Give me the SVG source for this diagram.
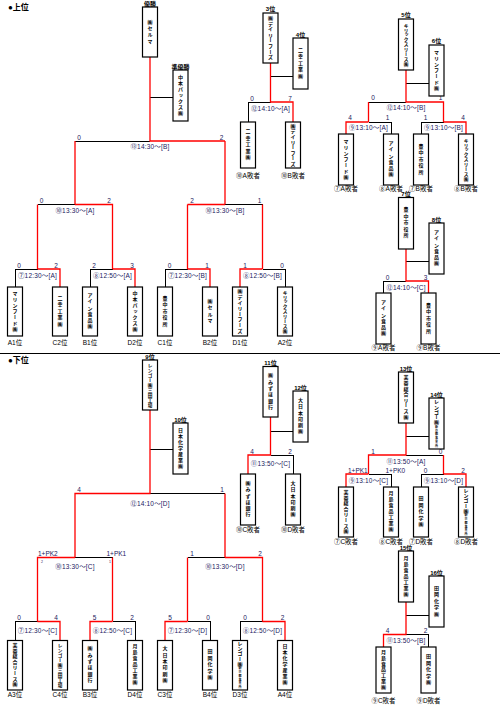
<svg xmlns="http://www.w3.org/2000/svg" width="500" height="707" viewBox="0 0 500 707">
<style>
.k{fill:none;stroke:#000;stroke-width:1;shape-rendering:crispEdges}
.r{fill:none;stroke:#ff0000;stroke-width:1.3}
.bx{fill:#fff;stroke:#000;stroke-width:1.2}
text{font-family:"Liberation Sans","Noto Sans CJK JP",sans-serif}
.nm{font-family:"Noto Sans CJK JP",sans-serif;font-size:5px;font-weight:bold;writing-mode:vertical-rl;text-anchor:middle;fill:#000}
.sc{font-size:6.5px;fill:#1a2060;text-anchor:middle}
.pk{font-size:6.5px;fill:#1a2060}
.tn{font-size:3.5px;fill:#1a2060;text-anchor:middle}
.ml{font-size:6.5px;fill:#1a2060;text-anchor:middle;letter-spacing:0.2px}
.rk{font-size:6px;font-weight:bold;text-anchor:middle}
.sd{font-size:6.5px;text-anchor:middle}
.ls{font-size:6.5px;text-anchor:middle}
.hd{font-size:8px;font-weight:bold}
</style>
<line x1="0" y1="353.5" x2="500" y2="353.5" stroke="#000" stroke-width="1"/>
<text class="hd" x="8" y="10">●上位</text>
<text class="hd" x="8" y="362.5">●下位</text>

<g id="connectors">
<path class="k" d="M150 97H173M75 141H150M37.5 204.5H75M225 204.5H262.5M37.5 269H15V287M112.5 269H90V287M187.5 269H165V287M262.5 269H285V287M270.5 76H293M270.5 102H248V122M406 83H429M406 102H368.5M368.5 122H391V134M443.5 122H421V134M406 261H429M406 281H383.5V293"/>
<path class="k" d="M150 449.5H173M150 493.5H225M75 557.5H112.5M225 557.5H187.5M37.5 621.5H15V640.5M112.5 621.5H135V640.5M187.5 621.5H210V640.5M262.5 621.5H240V640.5M270.5 431H293M270.5 455H293V474M406 436.5H429M406 455H443.5M368.5 474H391V487M443.5 474H421V487M406 615.5H429M406 634.5H428.5V647"/>
<path class="r" d="M150 57V141H225M75 141V204.5M225 141V204.5M37.5 204.5V269M75 204.5H112.5V269M187.5 204.5H225M187.5 204.5V269M262.5 204.5V269M37.5 269H60V287M112.5 269H135V287M187.5 269H210V287M262.5 269H240V287M270.5 63V102H293V122M406 70V102H443.5V122M368.5 102V122M368.5 122H346V134M443.5 122H466V134M406 249V281H428.5V293"/>
<path class="r" d="M150 410V493.5H75V557.5M225 493.5V557.5M75 557.5H37.5V621.5M112.5 557.5V621.5M225 557.5H262.5V621.5M187.5 557.5V621.5M37.5 621.5H60V640.5M112.5 621.5H90V640.5M187.5 621.5H165V640.5M262.5 621.5H285V640.5M270.5 417V455H248V474M406 423V455H368.5V474M443.5 455V474M368.5 474H346V487M443.5 474H466V487M406 602V634.5H383.5V647"/>
<!-- scores -->
<text class="sc" x="79" y="139.5">0</text><text class="sc" x="221.5" y="139.5">2</text>
<text class="sc" x="41.5" y="203">0</text><text class="sc" x="109" y="203">2</text>
<text class="sc" x="192" y="203">2</text><text class="sc" x="259.5" y="203">1</text>
<text class="sc" x="19" y="267.5">0</text><text class="sc" x="56" y="267.5">2</text>
<text class="sc" x="94" y="267.5">2</text><text class="sc" x="132" y="267.5">3</text>
<text class="sc" x="169.5" y="267.5">0</text><text class="sc" x="207" y="267.5">1</text>
<text class="sc" x="245" y="267.5">1</text><text class="sc" x="282" y="267.5">0</text>
<text class="sc" x="252" y="100.5">0</text><text class="sc" x="290" y="100.5">7</text>
<text class="sc" x="373" y="100">0</text><text class="sc" x="440.5" y="100">1</text>
<text class="sc" x="350" y="120">4</text><text class="sc" x="387.5" y="120">1</text>
<text class="sc" x="425.5" y="120">1</text><text class="sc" x="463" y="120">4</text>
<text class="sc" x="387.5" y="279.5">0</text><text class="sc" x="425.5" y="279.5">3</text>
<text class="sc" x="79" y="492">4</text><text class="sc" x="222" y="492">1</text>
<text class="pk" x="38" y="556">1+PK2</text><text class="pk" x="106.5" y="556">1+PK1</text>
<text class="tn" x="42" y="562.5">2</text><text class="tn" x="110" y="562.5">1</text>
<text class="sc" x="192" y="556">1</text><text class="sc" x="260" y="556">2</text>
<text class="sc" x="19" y="620">0</text><text class="sc" x="56" y="620">4</text>
<text class="sc" x="94.5" y="620">5</text><text class="sc" x="132" y="620">2</text>
<text class="sc" x="170" y="620">5</text><text class="sc" x="208" y="620">0</text>
<text class="sc" x="245" y="620">0</text><text class="sc" x="282.5" y="620">2</text>
<text class="sc" x="252" y="453.5">4</text><text class="sc" x="290" y="453.5">2</text>
<text class="sc" x="373" y="453.5">1</text><text class="sc" x="440.5" y="453.5">0</text>
<text class="pk" x="348" y="473">1+PK1</text><text class="pk" x="385.5" y="473">1+PK0</text>
<text class="sc" x="425.5" y="473">0</text><text class="sc" x="463" y="473">2</text>
<text class="sc" x="387.5" y="633">4</text><text class="sc" x="425.5" y="633">2</text>
<!-- match labels -->
<text class="ml" x="150" y="149">⑬14:30〜[B]</text>
<text class="ml" x="75" y="213">⑩13:30〜[A]</text>
<text class="ml" x="225" y="213">⑩13:30〜[B]</text>
<text class="ml" x="37.5" y="277.5">⑦12:30〜[A]</text>
<text class="ml" x="112.5" y="277.5">⑧12:50〜[A]</text>
<text class="ml" x="187.5" y="277.5">⑦12:30〜[B]</text>
<text class="ml" x="262.5" y="277.5">⑧12:50〜[B]</text>
<text class="ml" x="270.5" y="111">⑫14:10〜[A]</text>
<text class="ml" x="406" y="110">⑫14:10〜[B]</text>
<text class="ml" x="368.5" y="130">⑨13:10〜[A]</text>
<text class="ml" x="443.5" y="130">⑨13:10〜[B]</text>
<text class="ml" x="406" y="289.5">⑫14:10〜[C]</text>
<text class="ml" x="150" y="506">⑫14:10〜[D]</text>
<text class="ml" x="75" y="569">⑩13:30〜[C]</text>
<text class="ml" x="225" y="569">⑩13:30〜[D]</text>
<text class="ml" x="37.5" y="633">⑦12:30〜[C]</text>
<text class="ml" x="112.5" y="633">⑧12:50〜[C]</text>
<text class="ml" x="187.5" y="633">⑦12:30〜[D]</text>
<text class="ml" x="262.5" y="633">⑧12:50〜[D]</text>
<text class="ml" x="270.5" y="466">⑪13:50〜[C]</text>
<text class="ml" x="406" y="464">⑪13:50〜[A]</text>
<text class="ml" x="368.5" y="482.5">⑨13:10〜[C]</text>
<text class="ml" x="443.5" y="482.5">⑨13:10〜[D]</text>
<text class="ml" x="406" y="642.5">⑪13:50〜[B]</text>
</g>

<!-- upper ranking -->
<g id="r1"><text class="rk" x="150" y="6">優勝</text><rect class="bx" x="142.5" y="7" width="15" height="50"/><text class="nm" x="150" y="32" style="letter-spacing:1.4px">㈱セルマ</text></g>
<g id="r2"><text class="rk" x="180.5" y="68.5">準優勝</text><rect class="bx" x="173" y="70" width="15" height="51"/><text class="nm" x="180.5" y="95.5" style="letter-spacing:1px">中本パックス㈱</text></g>
<g id="r3"><text class="rk" x="270.5" y="11">3位</text><rect class="bx" x="263" y="13" width="15" height="50"/><text class="nm" x="270.5" y="38" style="letter-spacing:0.6px">㈱デイリーフーズ</text></g>
<g id="r4"><text class="rk" x="300.5" y="36.5">4位</text><rect class="bx" x="293" y="38" width="15" height="51"/><text class="nm" x="300.5" y="63.5" style="letter-spacing:1.5px">二幸工業㈱</text></g>
<g id="r5"><text class="rk" x="406" y="17">5位</text><rect class="bx" x="398.5" y="19" width="15" height="51"/><text class="nm" x="406" y="44.5" style="font-size:4.7px;letter-spacing:0.2px">キリックスリース㈱</text></g>
<g id="r6"><text class="rk" x="436.5" y="43">6位</text><rect class="bx" x="429" y="45" width="15" height="51"/><text class="nm" x="436.5" y="70.5" style="letter-spacing:1px">マリンフード㈱</text></g>
<g id="r7"><text class="rk" x="406" y="196">7位</text><rect class="bx" x="398.5" y="197.5" width="15" height="51.5"/><text class="nm" x="406" y="223" style="letter-spacing:1.5px">豊中市役所</text></g>
<g id="r8"><text class="rk" x="436.5" y="221.5">8位</text><rect class="bx" x="429" y="223" width="15" height="51"/><text class="nm" x="436.5" y="248.5" style="letter-spacing:1.3px">アイン食品㈱</text></g>

<!-- upper first round -->
<g id="uA1"><rect class="bx" x="7.5" y="287" width="15" height="49"/><text class="nm" x="15" y="311.5" style="letter-spacing:1px">マリンフード㈱</text><text class="sd" x="15" y="344.5">A1位</text></g>
<g id="uC2"><rect class="bx" x="52.5" y="287" width="15" height="49"/><text class="nm" x="60" y="311.5" style="letter-spacing:1.5px">二幸工業㈱</text><text class="sd" x="60" y="344.5">C2位</text></g>
<g id="uB1"><rect class="bx" x="82.5" y="287" width="15" height="49"/><text class="nm" x="90" y="311.5" style="letter-spacing:1.3px">アイン食品㈱</text><text class="sd" x="90" y="344.5">B1位</text></g>
<g id="uD2"><rect class="bx" x="127.5" y="287" width="15" height="49"/><text class="nm" x="135" y="311.5" style="letter-spacing:1px">中本パックス㈱</text><text class="sd" x="135" y="344.5">D2位</text></g>
<g id="uC1"><rect class="bx" x="157.5" y="287" width="15" height="49"/><text class="nm" x="165" y="311.5" style="letter-spacing:1.5px">豊中市役所</text><text class="sd" x="165" y="344.5">C1位</text></g>
<g id="uB2"><rect class="bx" x="202.5" y="287" width="15" height="49"/><text class="nm" x="210" y="311.5" style="letter-spacing:1.4px">㈱セルマ</text><text class="sd" x="210" y="344.5">B2位</text></g>
<g id="uD1"><rect class="bx" x="232.5" y="287" width="15" height="49"/><text class="nm" x="240" y="311.5" style="letter-spacing:0.6px">㈱デイリーフーズ</text><text class="sd" x="240" y="344.5">D1位</text></g>
<g id="uA2"><rect class="bx" x="277.5" y="287" width="15" height="49"/><text class="nm" x="285" y="311.5" style="font-size:4.7px;letter-spacing:0.2px">キリックスリース㈱</text><text class="sd" x="285" y="344.5">A2位</text></g>

<!-- upper placement matches -->
<g id="p3a"><rect class="bx" x="240.5" y="122" width="15" height="46"/><text class="nm" x="248" y="145" style="letter-spacing:1.5px">二幸工業㈱</text><text class="ls" x="248" y="177.5">⑩A敗者</text></g>
<g id="p3b"><rect class="bx" x="285.5" y="122" width="15" height="46"/><text class="nm" x="293" y="145" style="letter-spacing:0.4px">㈱デイリーフーズ</text><text class="ls" x="293" y="177.5">⑩B敗者</text></g>
<g id="p5a"><rect class="bx" x="338.5" y="134" width="15" height="51"/><text class="nm" x="346" y="159.5" style="letter-spacing:1px">マリンフード㈱</text><text class="ls" x="346" y="191">⑦A敗者</text></g>
<g id="p5b"><rect class="bx" x="383.5" y="134" width="15" height="51"/><text class="nm" x="391" y="159.5" style="letter-spacing:1.3px">アイン食品㈱</text><text class="ls" x="391" y="191">⑧A敗者</text></g>
<g id="p5c"><rect class="bx" x="413.5" y="134" width="15" height="51"/><text class="nm" x="421" y="159.5" style="letter-spacing:1.5px">豊中市役所</text><text class="ls" x="421" y="191">⑦B敗者</text></g>
<g id="p5d"><rect class="bx" x="458.5" y="134" width="15" height="51"/><text class="nm" x="466" y="159.5" style="font-size:4.7px;letter-spacing:0.2px">キリックスリース㈱</text><text class="ls" x="466" y="191">⑧B敗者</text></g>
<g id="p7a"><rect class="bx" x="376" y="293" width="15" height="51"/><text class="nm" x="383.5" y="318.5" style="letter-spacing:1.3px">アイン食品㈱</text><text class="ls" x="383.5" y="349.5">⑨A敗者</text></g>
<g id="p7b"><rect class="bx" x="421" y="293" width="15" height="51"/><text class="nm" x="428.5" y="318.5" style="letter-spacing:1.5px">豊中市役所</text><text class="ls" x="428.5" y="349.5">⑨B敗者</text></g>

<!-- lower ranking -->
<g id="r9"><text class="rk" x="150" y="359">9位</text><rect class="bx" x="142.5" y="360" width="15" height="50"/><text class="nm" x="150" y="385" style="font-size:4.7px;letter-spacing:0.3px">レンゴー㈱三田工場</text></g>
<g id="r10"><text class="rk" x="180.5" y="422">10位</text><rect class="bx" x="173" y="423" width="15" height="51"/><text class="nm" x="180.5" y="448.5" style="letter-spacing:1px">日本化学産業㈱</text></g>
<g id="r11"><text class="rk" x="270.5" y="365">11位</text><rect class="bx" x="263" y="366.5" width="15" height="50.5"/><text class="nm" x="270.5" y="392" style="letter-spacing:1.3px">㈱みずほ銀行</text></g>
<g id="r12"><text class="rk" x="300.5" y="390">12位</text><rect class="bx" x="293" y="391" width="15" height="51"/><text class="nm" x="300.5" y="416.5" style="letter-spacing:1.3px">大日本印刷㈱</text></g>
<g id="r13"><text class="rk" x="406" y="370.5">13位</text><rect class="bx" x="398.5" y="372" width="15" height="51"/><text class="nm" x="406" y="397.5" style="letter-spacing:0.6px">芙蓉総合リース㈱</text></g>
<g id="r14"><text class="rk" x="436.5" y="396.5">14位</text><rect class="bx" x="429" y="398" width="15" height="51"/><text class="nm" x="436.5" y="423.5" style="letter-spacing:0.2px">レンゴー㈱<tspan style="font-size:3px;letter-spacing:0.8px">新京都事業所</tspan></text></g>
<g id="r15"><text class="rk" x="406" y="550">15位</text><rect class="bx" x="398.5" y="551" width="15" height="51"/><text class="nm" x="406" y="576.5" style="letter-spacing:1px">月島食品工業㈱</text></g>
<g id="r16"><text class="rk" x="436.5" y="574.5">16位</text><rect class="bx" x="429" y="576" width="15" height="51"/><text class="nm" x="436.5" y="601.5" style="letter-spacing:1.5px">田岡化学㈱</text></g>

<!-- lower first round -->
<g id="lA3"><rect class="bx" x="7.5" y="640.5" width="15" height="49.5"/><text class="nm" x="15" y="665" style="letter-spacing:0.6px">芙蓉総合リース㈱</text><text class="sd" x="15" y="697">A3位</text></g>
<g id="lC4"><rect class="bx" x="52.5" y="640.5" width="15" height="49.5"/><text class="nm" x="60" y="665" style="font-size:4.7px;letter-spacing:0.3px">レンゴー㈱三田工場</text><text class="sd" x="60" y="697">C4位</text></g>
<g id="lB3"><rect class="bx" x="82.5" y="640.5" width="15" height="49.5"/><text class="nm" x="90" y="665" style="letter-spacing:1.3px">㈱みずほ銀行</text><text class="sd" x="90" y="697">B3位</text></g>
<g id="lD4"><rect class="bx" x="127.5" y="640.5" width="15" height="49.5"/><text class="nm" x="135" y="665" style="letter-spacing:1px">月島食品工業㈱</text><text class="sd" x="135" y="697">D4位</text></g>
<g id="lC3"><rect class="bx" x="157.5" y="640.5" width="15" height="49.5"/><text class="nm" x="165" y="665" style="letter-spacing:1.3px">大日本印刷㈱</text><text class="sd" x="165" y="697">C3位</text></g>
<g id="lB4"><rect class="bx" x="202.5" y="640.5" width="15" height="49.5"/><text class="nm" x="210" y="665" style="letter-spacing:1.5px">田岡化学㈱</text><text class="sd" x="210" y="697">B4位</text></g>
<g id="lD3"><rect class="bx" x="232.5" y="640.5" width="15" height="49.5"/><text class="nm" x="240" y="665" style="letter-spacing:0.2px">レンゴー㈱<tspan style="font-size:3px;letter-spacing:0.8px">新京都事業所</tspan></text><text class="sd" x="240" y="697">D3位</text></g>
<g id="lA4"><rect class="bx" x="277.5" y="640.5" width="15" height="49.5"/><text class="nm" x="285" y="665" style="letter-spacing:1px">日本化学産業㈱</text><text class="sd" x="285" y="697">A4位</text></g>

<!-- lower placement matches -->
<g id="p11a"><rect class="bx" x="240.5" y="474" width="15" height="51"/><text class="nm" x="248" y="499.5" style="letter-spacing:1.3px">㈱みずほ銀行</text><text class="ls" x="248" y="531.5">⑩C敗者</text></g>
<g id="p11b"><rect class="bx" x="285.5" y="474" width="15" height="51"/><text class="nm" x="293" y="499.5" style="letter-spacing:1.3px">大日本印刷㈱</text><text class="ls" x="293" y="531.5">⑩D敗者</text></g>
<g id="p13a"><rect class="bx" x="338.5" y="487" width="15" height="50"/><text class="nm" x="346" y="512" style="letter-spacing:0.6px">芙蓉総合リース㈱</text><text class="ls" x="346" y="544">⑦C敗者</text></g>
<g id="p13b"><rect class="bx" x="383.5" y="487" width="15" height="50"/><text class="nm" x="391" y="512" style="letter-spacing:1px">月島食品工業㈱</text><text class="ls" x="391" y="544">⑧C敗者</text></g>
<g id="p13c"><rect class="bx" x="413.5" y="487" width="15" height="50"/><text class="nm" x="421" y="512" style="letter-spacing:1.5px">田岡化学㈱</text><text class="ls" x="421" y="544">⑦D敗者</text></g>
<g id="p13d"><rect class="bx" x="458.5" y="487" width="15" height="50"/><text class="nm" x="466" y="512" style="letter-spacing:0.2px">レンゴー㈱<tspan style="font-size:3px;letter-spacing:0.8px">新京都事業所</tspan></text><text class="ls" x="466" y="544">⑧D敗者</text></g>
<g id="p15a"><rect class="bx" x="376" y="647" width="15" height="46"/><text class="nm" x="383.5" y="670" style="letter-spacing:0.8px">月島食品工業㈱</text><text class="ls" x="383.5" y="703">⑨C敗者</text></g>
<g id="p15b"><rect class="bx" x="421" y="647" width="15" height="46"/><text class="nm" x="428.5" y="670" style="letter-spacing:1.5px">田岡化学㈱</text><text class="ls" x="428.5" y="703">⑨D敗者</text></g>
</svg>
